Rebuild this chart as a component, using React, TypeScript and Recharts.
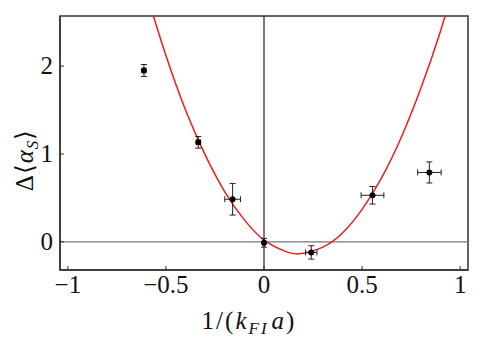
import {
  ComposedChart,
  Scatter,
  Line,
  XAxis,
  YAxis,
  ErrorBar,
  ReferenceLine,
  ReferenceArea,
} from "recharts";

// measured points
const pointX = [-0.612, -0.335, -0.16, 0, 0.241, 0.553, 0.843];
const pointY = [1.95, 1.133, 0.485, -0.01, -0.12, 0.53, 0.79];
const errX = [0.01, 0.01, 0.04, 0.006, 0.029, 0.058, 0.06];
const errY = [0.068, 0.066, 0.18, 0.05, 0.076, 0.1, 0.12];

// fitted curve
const curveX = [-0.6, -0.5, -0.4, -0.3, -0.2, -0.1, 0, 0.1, 0.18, 0.3, 0.4, 0.5, 0.6, 0.7, 0.8, 0.9, 1.0];
const curveY = [2.83, 2.12, 1.5, 0.99, 0.57, 0.25, 0.02, -0.1, -0.136, -0.06, 0.1, 0.37, 0.73, 1.19, 1.75, 2.4, 3.15];

const xTicks = [-1, -0.5, 0, 0.5, 1];
const yTicks = [0, 1, 2];
const xDomain = [-1.04, 1.04];
const yDomain = [-0.32, 2.57];

const points = pointX.map((x, i) => ({ x, y: pointY[i], ex: errX[i], ey: errY[i] }));
const curve = curveX.map((x, i) => ({ x, y: curveY[i] }));

const SERIF = "Liberation Serif";
const fmt = (v: number) => String(v).replace("-", "\u2212");

function XTick(props: any) {
  const { x, y, payload } = props;
  return (
    <g>
      <line x1={x} x2={x} y1={y} y2={y - 4} stroke="#333" />
      <text x={x} y={y + 23} textAnchor="middle" fontFamily={SERIF} fontSize={25} fill="#111">
        {fmt(payload.value)}
      </text>
    </g>
  );
}

function YTick(props: any) {
  const { x, y, payload } = props;
  return (
    <g>
      <line x1={x} x2={x + 4} y1={y} y2={y} stroke="#333" />
      <text x={x - 7} y={y + 8} textAnchor="end" fontFamily={SERIF} fontSize={25} fill="#111">
        {fmt(payload.value)}
      </text>
    </g>
  );
}

const XLabel = () => (
  <text x={249} y={329} textAnchor="middle" fontFamily={SERIF} fontSize={25} letterSpacing={2} fill="#111">
    1/(
    <tspan fontStyle="italic">k</tspan>
    <tspan fontStyle="italic" fontSize={17} dy={5}>FI</tspan>
    <tspan fontStyle="italic" dy={-5} dx={3}>a</tspan>)
  </text>
);

const YLabel = () => (
  <text x={0} y={0} transform="translate(33 160) rotate(-90)" textAnchor="middle" fontFamily={SERIF} fontSize={25} letterSpacing={1} fill="#111">
    {"\u0394\u27e8"}
    <tspan fontStyle="italic">{"\u03b1"}</tspan>
    <tspan fontStyle="italic" fontSize={17} dy={5}>S</tspan>
    <tspan dy={-5}>{"\u27e9"}</tspan>
  </text>
);

export default function App() {
  return (
    <div style={{ position: "absolute", left: 0, top: 0 }}>
      <ComposedChart width={485} height={341} margin={{ top: 16, right: 17, bottom: 0, left: 0 }}>
        <XAxis
          type="number"
          dataKey="x"
          domain={xDomain}
          ticks={xTicks}
          allowDataOverflow
          height={71}
          tickSize={0}
          tickMargin={0}
          tickLine={false}
          axisLine={{ stroke: "#333", strokeWidth: 1.5 }}
          tick={<XTick />}
          label={{ content: () => <XLabel /> }}
        />
        <YAxis
          type="number"
          dataKey="y"
          domain={yDomain}
          ticks={yTicks}
          allowDataOverflow
          width={60}
          tickSize={0}
          tickMargin={0}
          tickLine={false}
          axisLine={{ stroke: "#333", strokeWidth: 1.5 }}
          tick={<YTick />}
          label={{ content: () => <YLabel /> }}
        />
        <ReferenceArea
          x1={xDomain[0]}
          x2={xDomain[1]}
          y1={yDomain[0]}
          y2={yDomain[1]}
          fill="none"
          stroke="#333"
          strokeWidth={1.5}
          fillOpacity={0}
        />
        <ReferenceLine y={0} stroke="#777" strokeWidth={1.2} />
        <ReferenceLine x={0} stroke="#222" strokeWidth={1.2} />
        <Line
          data={curve}
          dataKey="y"
          type="natural"
          stroke="#ee1c1c"
          strokeWidth={1.5}
          dot={false}
          isAnimationActive={false}
        />
        <Scatter data={points} dataKey="y" fill="#000" isAnimationActive={false} shape={(p: any) => <circle cx={p.cx} cy={p.cy} r={3} fill="#000" />}>
          <ErrorBar dataKey="ey" direction="y" width={3} stroke="#222" strokeWidth={1} />
          <ErrorBar dataKey="ex" direction="x" width={3} stroke="#222" strokeWidth={1} />
        </Scatter>
      </ComposedChart>
    </div>
  );
}
